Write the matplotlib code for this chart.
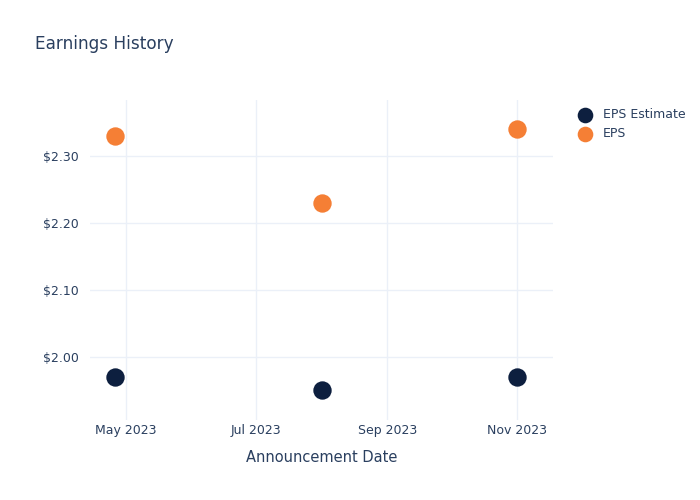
"""Earnings history scatter: EPS estimate vs reported EPS."""

import matplotlib

matplotlib.use("Agg")
import matplotlib.dates as mdates
import matplotlib.pyplot as plt
import numpy as np
from matplotlib.ticker import FuncFormatter

DATES = np.array(["2023-04-26", "2023-08-01", "2023-11-01"], dtype="datetime64[D]")
EPS_ESTIMATE = [1.97, 1.95, 1.97]
EPS_ACTUAL = [2.33, 2.23, 2.34]
Y_TICKS = [2.00, 2.10, 2.20, 2.30]
X_TICKS = np.array(["2023-05-01", "2023-07-01", "2023-09-01", "2023-11-01"], dtype="datetime64[D]")

TEXT = "#2a3f5f"
GRID = "#ebf0f8"
NAVY = "#0d1f3f"
ORANGE = "#f57f35"


def main() -> None:
    plt.rcParams["font.family"] = ["DejaVu Sans"]
    fig = plt.figure(figsize=(7.0, 5.0), dpi=100)
    ax = fig.add_axes([90 / 700, 80 / 500, 463 / 700, 320 / 500])

    est = ax.scatter(DATES, EPS_ESTIMATE, s=175, color=NAVY, zorder=3, linewidths=0)
    act = ax.scatter(DATES, EPS_ACTUAL, s=175, color=ORANGE, zorder=3, linewidths=0)

    ax.set_xlim(np.datetime64("2023-04-14"), np.datetime64("2023-11-18"))
    ax.set_ylim(1.906, 2.383)
    ax.set_xticks(X_TICKS)
    ax.xaxis.set_major_formatter(mdates.DateFormatter("%b %Y"))
    ax.set_yticks(Y_TICKS)
    ax.yaxis.set_major_formatter(FuncFormatter(lambda v, _: f"${v:.2f}"))

    ax.grid(True, color=GRID, linewidth=1, zorder=0)
    for side in ax.spines.values():
        side.set_visible(False)
    ax.tick_params(length=0, colors=TEXT, labelsize=9)
    ax.tick_params(axis="y", pad=8)
    ax.tick_params(axis="x", pad=3)
    ax.set_xlabel("Announcement Date", color=TEXT, fontsize=10.5, labelpad=9)

    fig.text(35 / 700, 1 - 44 / 500, "Earnings History", color=TEXT, fontsize=12.2, va="center")

    fig.legend(
        [est, act],
        ["EPS Estimate", "EPS"],
        loc="upper left",
        bbox_to_anchor=(574 / 700, 1 - 103 / 500),
        frameon=False,
        fontsize=9,
        labelcolor=TEXT,
        markerscale=0.85,
        handletextpad=0.9,
        labelspacing=0.5,
        borderaxespad=0,
        handlelength=1.0,
    )

    fig.savefig("out.png", dpi=100)
    plt.close(fig)


if __name__ == "__main__":
    main()
